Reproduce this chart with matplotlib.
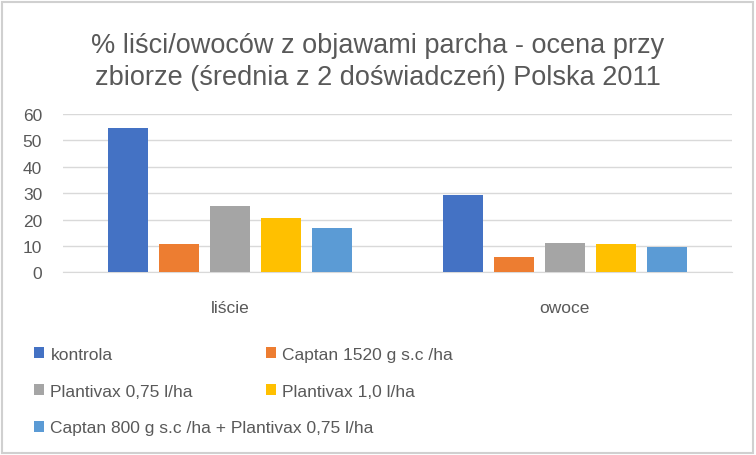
import matplotlib.pyplot as plt
import numpy as np
from matplotlib.patches import Rectangle

plt.rcParams['font.family'] = ['Liberation Sans', 'DejaVu Sans']

title = '% liści/owoców z objawami parcha - ocena przy\nzbiorze (średnia z 2 doświadczeń) Polska 2011'
categories = ['liście', 'owoce']
series = ['kontrola', 'Captan 1520 g s.c /ha', 'Plantivax 0,75 l/ha',
          'Plantivax 1,0 l/ha', 'Captan 800 g s.c /ha + Plantivax 0,75 l/ha']
values = [
    [54.7, 29.3],
    [10.7, 5.8],
    [25.1, 11.1],
    [20.6, 10.7],
    [16.8, 9.6],
]
colors = ['#4472c4', '#ed7d31', '#a5a5a5', '#ffc000', '#5b9bd5']

fig = plt.figure(figsize=(7.56, 4.56), dpi=100)
ax = fig.add_axes([63/756, 1-273.3/456, 669/756, 158.3/456])

x = np.arange(len(categories)) + 0.5
width = 40/334
step = 51/334
bars = []
for i, (name, vals) in enumerate(zip(series, values)):
    b = ax.bar(x + (i-2)*step, vals, width, color=colors[i], label=name, zorder=3)
    bars.append(b)

ax.set_xlim(0, 2)
ax.set_ylim(0, 60)
ax.set_yticks(range(0, 61, 10))
ax.yaxis.grid(True, color='#d9d9d9', linewidth=1, zorder=0)
for s in ['top', 'right', 'left']:
    ax.spines[s].set_visible(False)
ax.spines['bottom'].set_color('#d9d9d9')
ax.set_xticks(x)
ax.set_xticklabels(categories)
ax.tick_params(axis='both', length=0, labelcolor='#595959', labelsize=12.5)
ax.tick_params(axis='x', pad=20)
ax.tick_params(axis='y', pad=15)

fig.text(0.5, 1-62/456, title, ha='center', va='center', fontsize=19.5,
         color='#595959', linespacing=1.3)

# legend laid out row-wise like the original: left column 3 rows, right column 2 rows
left = [0, 2, 4]
right = [1, 3]
kw = dict(loc='upper left', frameon=False, fontsize=12.5, handlelength=0.6,
          handleheight=0.6, handletextpad=0.35, labelspacing=1.25,
          labelcolor='#595959', borderpad=0, borderaxespad=0)
fig.legend([bars[i] for i in left], [series[i] for i in left],
           bbox_to_anchor=(34/756, 1-348/456), **kw)
fig.legend([bars[i] for i in right], [series[i] for i in right],
           bbox_to_anchor=(266/756, 1-348/456), **kw)

fig.patches.append(Rectangle((0.002, 0.004), 0.994, 0.99, transform=fig.transFigure,
                             fill=False, edgecolor='#d0d0d0', linewidth=1.5))

fig.savefig('out.png', dpi=100)
